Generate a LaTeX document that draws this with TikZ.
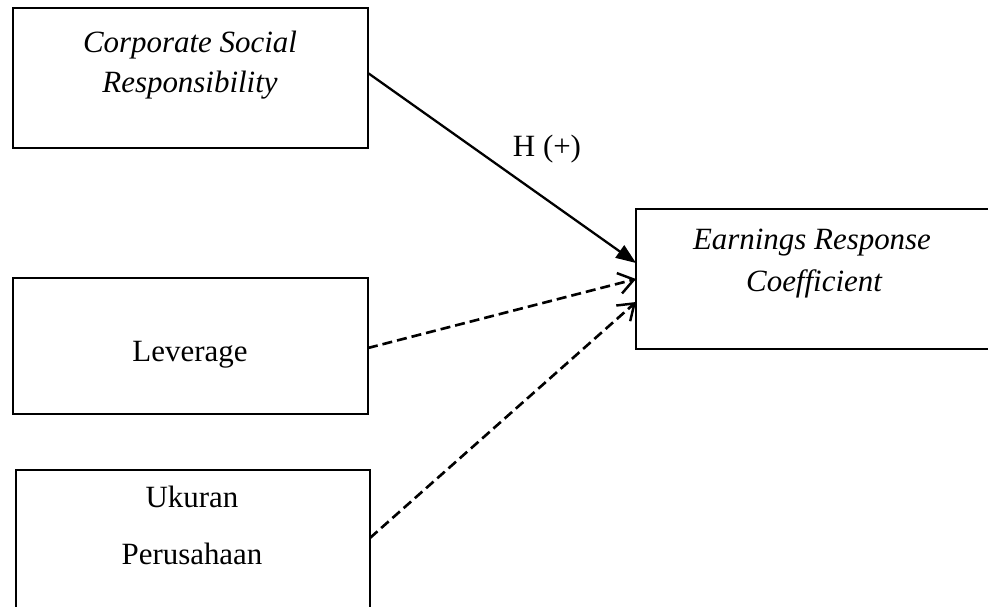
\documentclass[tikz,border=0pt]{standalone}
\usepackage{fontspec}
\setmainfont{Liberation Serif}
\usetikzlibrary{arrows.meta}
\begin{document}
\begin{tikzpicture}[x=0.02cm,y=-0.02cm,
  box/.style={draw=black,line width=1.2pt,minimum width=#1,inner sep=0pt,outer sep=0pt},
  lbl/.style={anchor=base,inner sep=0pt,font=\fontsize{17.6}{21}\selectfont},
  dashline/.style={line width=1.5pt,dash pattern=on 0.2cm off 0.1cm,-{Straight Barb[length=0.3cm,width=0.42cm,line width=1.4pt]}}]
\useasboundingbox (0,0) rectangle (988,607);
\node[box=7.1cm,minimum height=2.8cm] (csr) at (190.5,78) {};
\node[box=7.1cm,minimum height=2.72cm] (lev) at (190.5,346) {};
\node[box=7.08cm,minimum height=2.76cm] (uk) at (193,539) {};
\node[box=7.12cm,minimum height=2.8cm] (erc) at (814,279) {};
\node[lbl] (csr1) at (190,53) {\itshape Corporate Social};
\node[lbl] (csr2) at (190,93) {\itshape Responsibility};
\node[lbl] (erc1) at (812,250) {\itshape Earnings Response};
\node[lbl] (erc2) at (814,292) {\itshape Coefficient};
\node[lbl] (levtxt) at (190,362) {Leverage};
\node[lbl] (uk1) at (192,508) {Ukuran};
\node[lbl] (uk2) at (192,565) {Perusahaan};
\node[lbl] (hyp) at (547,157) {H (+)};
\draw[line width=1.3pt,-{Triangle[length=0.4cm,width=0.3cm]}] ([yshift=0.1cm]csr.east) -- ([yshift=0.32cm]erc.west);
\draw[dashline] ([yshift=-0.04cm]lev.east) -- (erc.west);
\draw[dashline] ([yshift=0.02cm]uk.east) -- ([yshift=-0.46cm]erc.west);
\end{tikzpicture}
\end{document}
